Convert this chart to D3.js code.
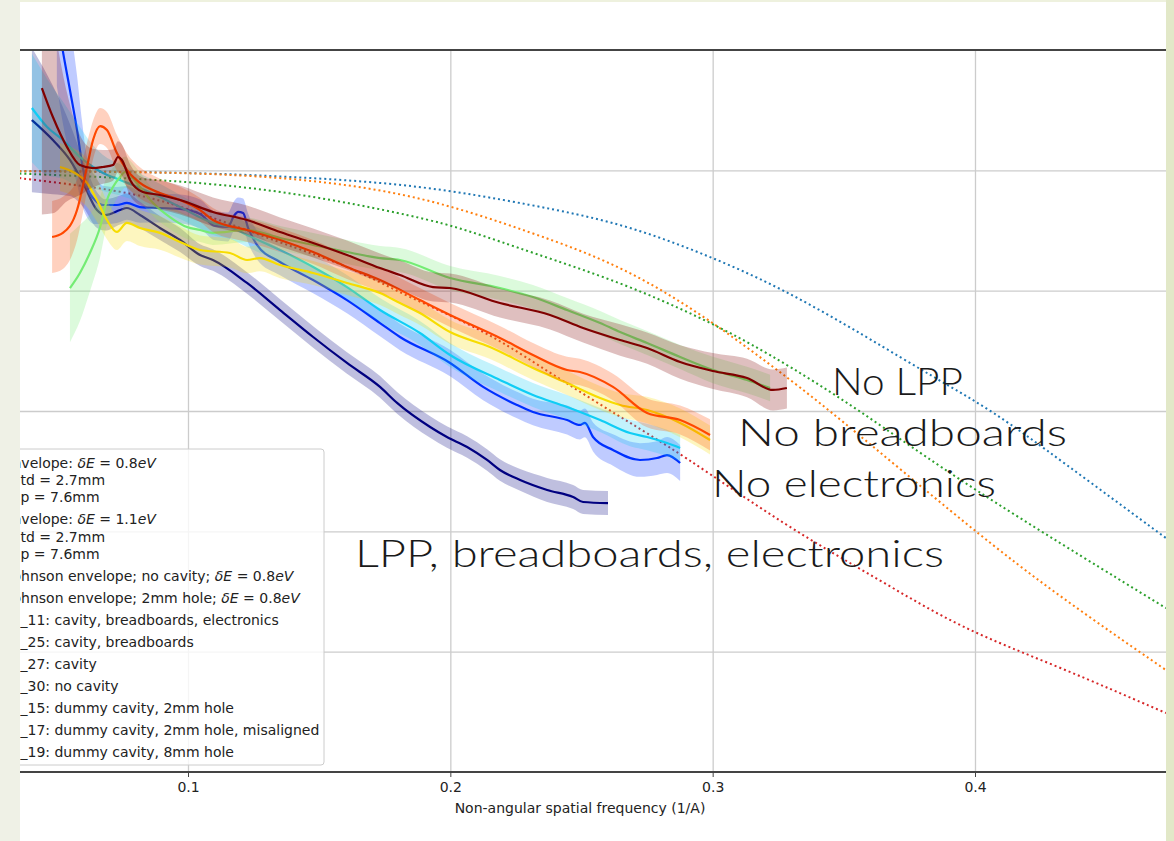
<!DOCTYPE html>
<html>
<head>
<meta charset="utf-8">
<script src="https://cdn.jsdelivr.net/npm/d3@7"></script>
<style>
  body { margin: 0; background: #eef0e2; }
  svg { display: block; }
</style>
</head>
<body>
<div id="graf"></div>
<script>
// Ticks y rejilla
const xTicks = [0.1, 0.2, 0.3, 0.4]
const yGrid  = [0, -1, -2, -3, -4]

// Envolventes (punteadas): [frecuencia, log10]
const envelope08 = [[0.030,-0.006],[0.097,-0.014],[0.1427,-0.055],[0.1884,-0.122],[0.2315,-0.288],[0.2647,-0.437],[0.2952,-0.679],[0.3257,-0.970],[0.3588,-1.385],[0.3840,-1.717],[0.4069,-2.000],[0.4324,-2.407],[0.4728,-3.056]]
const envelope11 = [[0.030,-0.006],[0.097,-0.014],[0.1427,-0.064],[0.1884,-0.205],[0.2315,-0.520],[0.2647,-0.787],[0.2952,-1.186],[0.3207,-1.593],[0.3447,-1.992],[0.4000,-3.006],[0.4324,-3.546],[0.4728,-4.153]]
const johnsonNoCavity = [[0.030,-0.022],[0.097,-0.080],[0.1427,-0.189],[0.1884,-0.388],[0.2064,-0.496],[0.2315,-0.687],[0.2647,-0.928],[0.2952,-1.219],[0.3207,-1.510],[0.3562,-1.992],[0.3943,-2.590],[0.4728,-3.638]]
const johnson2mm = [[0.030,-0.050],[0.0741,-0.163],[0.097,-0.288],[0.1351,-0.604],[0.1606,-0.787],[0.1808,-1.019],[0.1999,-1.202],[0.2189,-1.410],[0.238,-1.684],[0.2647,-2.050],[0.2876,-2.349],[0.3283,-2.964],[0.3638,-3.405],[0.3943,-3.804],[0.4324,-4.128],[0.4728,-4.510]]

// Medidas: [frecuencia, log10, semi-ancho de la banda]
const run11 = [[0.0405,0.418,0.6],[0.0485,0.252,0.45],[0.0550,0.086,0.3],[0.0600,-0.105,0.2],[0.0653,-0.330,0.15],[0.0684,-0.371,0.13],[0.0741,-0.330,0.12],[0.0767,-0.313,0.12],[0.0817,-0.371,0.11],[0.0893,-0.479,0.1],[0.0970,-0.579,0.1],[0.1046,-0.704,0.09],[0.1095,-0.745,0.09],[0.1225,-0.936,0.09],[0.1351,-1.161,0.09],[0.1477,-1.385,0.09],[0.1606,-1.601,0.09],[0.1732,-1.800,0.09],[0.1797,-1.933,0.09],[0.1923,-2.133,0.09],[0.1987,-2.216,0.09],[0.2064,-2.299,0.09],[0.2140,-2.407,0.09],[0.2189,-2.490,0.09],[0.2266,-2.573,0.09],[0.2369,-2.656,0.1],[0.2468,-2.715,0.1],[0.2506,-2.756,0.1],[0.2601,-2.765,0.1]]
const run25 = [[0.0500,1.30,0.6],[0.0523,0.991,0.6],[0.0550,0.668,0.55],[0.0577,0.335,0.45],[0.0596,0.061,0.35],[0.0615,-0.139,0.25],[0.0645,-0.247,0.2],[0.0676,-0.288,0.16],[0.0729,-0.288,0.15],[0.0767,-0.271,0.14],[0.0817,-0.305,0.13],[0.0893,-0.313,0.12],[0.0970,-0.321,0.12],[0.1046,-0.363,0.12],[0.1103,-0.462,0.12],[0.1152,-0.471,0.12],[0.1175,-0.379,0.12],[0.1191,-0.346,0.12],[0.1210,-0.355,0.12],[0.1229,-0.479,0.12],[0.1263,-0.620,0.12],[0.1351,-0.762,0.11],[0.1477,-0.911,0.11],[0.1606,-1.078,0.11],[0.1732,-1.269,0.11],[0.1808,-1.385,0.11],[0.1999,-1.601,0.11],[0.2125,-1.800,0.11],[0.2254,-1.950,0.11],[0.2315,-2.008,0.11],[0.2445,-2.075,0.12],[0.2494,-2.116,0.12],[0.2513,-2.099,0.12],[0.2544,-2.216,0.12],[0.2620,-2.324,0.13],[0.2723,-2.407,0.14],[0.2788,-2.391,0.14],[0.2826,-2.366,0.15],[0.2876,-2.432,0.15]]
const run27 = [[0.0405,0.518,0.45],[0.0463,0.360,0.4],[0.0523,0.252,0.32],[0.0588,0.111,0.25],[0.0638,0.028,0.18],[0.0676,-0.022,0.15],[0.0741,-0.080,0.13],[0.0817,-0.147,0.12],[0.0893,-0.222,0.11],[0.0970,-0.305,0.1],[0.1095,-0.437,0.1],[0.1160,-0.471,0.1],[0.1225,-0.537,0.1],[0.1351,-0.662,0.1],[0.1477,-0.803,0.1],[0.1606,-0.970,0.1],[0.1732,-1.161,0.1],[0.1884,-1.352,0.1],[0.1999,-1.535,0.1],[0.2189,-1.742,0.1],[0.2315,-1.867,0.1],[0.2445,-1.967,0.1],[0.2571,-2.075,0.1],[0.2685,-2.183,0.11],[0.2750,-2.216,0.11],[0.2826,-2.266,0.11],[0.2876,-2.307,0.11]]
const run30 = [[0.0550,-0.978,0.45],[0.0588,-0.853,0.4],[0.0626,-0.687,0.32],[0.0665,-0.471,0.25],[0.0691,-0.247,0.2],[0.0714,-0.139,0.16],[0.0741,-0.055,0.14],[0.0760,-0.014,0.13],[0.0779,-0.039,0.12],[0.0817,-0.139,0.12],[0.0867,-0.271,0.11],[0.0931,-0.388,0.1],[0.0996,-0.471,0.1],[0.1046,-0.496,0.1],[0.1095,-0.520,0.1],[0.1225,-0.496,0.1],[0.1351,-0.562,0.1],[0.1477,-0.620,0.1],[0.1606,-0.679,0.1],[0.1732,-0.729,0.1],[0.1808,-0.745,0.1],[0.1999,-0.895,0.1],[0.2189,-0.978,0.1],[0.2315,-1.053,0.1],[0.2445,-1.161,0.1],[0.2571,-1.269,0.1],[0.2647,-1.344,0.1],[0.2750,-1.435,0.1],[0.2876,-1.551,0.1],[0.3001,-1.659,0.11],[0.3131,-1.742,0.11],[0.3219,-1.809,0.11]]
const run15 = [[0.0512,0.028,0.2],[0.0562,-0.014,0.2],[0.0615,-0.105,0.2],[0.0653,-0.247,0.18],[0.0691,-0.413,0.16],[0.0729,-0.512,0.15],[0.0767,-0.437,0.15],[0.0817,-0.479,0.15],[0.0893,-0.520,0.14],[0.0970,-0.596,0.13],[0.1046,-0.662,0.12],[0.1160,-0.687,0.12],[0.1225,-0.745,0.11],[0.1274,-0.729,0.11],[0.1351,-0.787,0.11],[0.1477,-0.853,0.1],[0.1606,-0.936,0.1],[0.1732,-1.019,0.1],[0.1808,-1.103,0.1],[0.1884,-1.186,0.1],[0.1999,-1.344,0.1],[0.2151,-1.468,0.1],[0.2315,-1.643,0.1],[0.2445,-1.767,0.1],[0.2571,-1.892,0.1],[0.2647,-1.950,0.1],[0.2750,-1.992,0.11],[0.2876,-2.099,0.12],[0.2990,-2.241,0.12]]
const run17 = [[0.0482,-0.554,0.3],[0.0523,-0.520,0.3],[0.0577,-0.330,0.25],[0.0615,0.028,0.2],[0.0638,0.252,0.16],[0.0665,0.368,0.15],[0.0691,0.335,0.15],[0.0729,0.144,0.15],[0.0767,0.003,0.14],[0.0817,-0.105,0.13],[0.0893,-0.189,0.12],[0.0970,-0.247,0.11],[0.1046,-0.330,0.1],[0.1095,-0.413,0.1],[0.1225,-0.496,0.1],[0.1351,-0.579,0.1],[0.1477,-0.679,0.1],[0.1606,-0.803,0.1],[0.1732,-0.911,0.1],[0.1884,-1.078,0.1],[0.1999,-1.202,0.1],[0.2189,-1.393,0.1],[0.2315,-1.535,0.1],[0.2445,-1.659,0.11],[0.2494,-1.676,0.11],[0.2620,-1.800,0.11],[0.2750,-2.016,0.12],[0.2876,-2.075,0.12],[0.2990,-2.199,0.13]]
const run19 = [[0.0443,0.684,1.05],[0.0485,0.443,0.8],[0.0539,0.193,0.45],[0.0588,0.044,0.25],[0.0638,0.019,0.16],[0.0676,0.028,0.14],[0.0714,0.044,0.13],[0.0733,0.111,0.13],[0.0748,0.086,0.13],[0.0779,-0.080,0.13],[0.0828,-0.180,0.12],[0.0893,-0.205,0.12],[0.0970,-0.247,0.12],[0.1095,-0.346,0.12],[0.1225,-0.413,0.12],[0.1351,-0.512,0.12],[0.1477,-0.604,0.12],[0.1606,-0.704,0.12],[0.1732,-0.812,0.12],[0.1808,-0.870,0.12],[0.1934,-0.970,0.12],[0.1999,-0.978,0.12],[0.2189,-1.103,0.12],[0.2380,-1.202,0.12],[0.2506,-1.311,0.12],[0.2647,-1.410,0.13],[0.2750,-1.477,0.13],[0.2876,-1.593,0.14],[0.3001,-1.668,0.15],[0.3131,-1.726,0.16],[0.3230,-1.825,0.17],[0.3283,-1.809,0.17]]

// Leyenda (recortada a la izquierda en la captura)
const legendLabels = [
  ['nvelope: $δE$ = 0.8$eV$', 'td = 2.7mm', 'p = 7.6mm'],
  ['nvelope: $δE$ = 1.1$eV$', 'td = 2.7mm', 'p = 7.6mm'],
  ['ohnson envelope; no cavity; $δE$ = 0.8$eV$'],
  ['ohnson envelope; 2mm hole; $δE$ = 0.8$eV$'],
  ['_11: cavity, breadboards, electronics'],
  ['_25: cavity, breadboards'],
  ['_27: cavity'],
  ['_30: no cavity'],
  ['_15: dummy cavity, 2mm hole'],
  ['_17: dummy cavity, 2mm hole, misaligned'],
  ['_19: dummy cavity, 8mm hole']
]

// Anotaciones de la diapositiva
const notes = ['No LPP', 'No breadboards', 'No electronics', 'LPP, breadboards, electronics']

const envelopes = [
  { data: envelope08,      color: '#1f77b4' },
  { data: envelope11,      color: '#ff7f0e' },
  { data: johnsonNoCavity, color: '#2ca02c' },
  { data: johnson2mm,      color: '#d62728' }
]
const runs = [
  { data: run11, color: '#000080' },
  { data: run25, color: '#0030ff' },
  { data: run27, color: '#10cdf5' },
  { data: run30, color: '#74ec74' },
  { data: run15, color: '#f7dc00' },
  { data: run17, color: '#ff4800' },
  { data: run19, color: '#800000' }
]

const W = 1174, H = 841
const fuente = 'DejaVu Sans'

svg = d3.select('#graf').append('svg')
        .attr('width', W)
        .attr('height', H)

// Fondo de la diapositiva y area blanca
svg.append('rect').attr('width', W).attr('height', H).attr('fill', '#eef1e0')
svg.append('rect')
  .attr('x', 20).attr('y', 2)
  .attr('width', 1146).attr('height', H - 2)
  .attr('fill', 'white')

// Escaladores
x = d3.scaleLinear().domain([0.1, 0.4]).range([188, 975])
y = d3.scaleLinear().domain([1, -5]).range([50, 772])
const xLo = 0.02, xHi = 0.48
const top_ = y(1), bot = y(-5)

g = svg.append('g')

g.append('clipPath')
  .attr('id', 'clip')
  .append('rect')
    .attr('x', x(xLo))
    .attr('y', top_)
    .attr('width', x(xHi) - x(xLo))
    .attr('height', bot - top_)

// Rejilla
g.append('g')
  .attr('class', 'grid')
  .attr('transform', `translate(0,${bot})`)
  .call(d3.axisBottom(x).tickValues(xTicks).tickFormat('').tickSize(-(bot - top_)))
g.append('g')
  .attr('class', 'grid')
  .attr('transform', `translate(${x(xLo)},0)`)
  .call(d3.axisLeft(y).tickValues(yGrid).tickFormat('').tickSize(-(x(xHi) - x(xLo))))
g.selectAll('.grid .domain').remove()
g.selectAll('.grid line')
  .attr('stroke', '#cccccc')
  .attr('stroke-width', 1.3)

plot = g.append('g').attr('clip-path', 'url(#clip)')

linea = d3.line()
          .x(d => x(d[0]))
          .y(d => y(d[1]))
          .curve(d3.curveMonotoneX)
suave = d3.line()
          .x(d => x(d[0]))
          .y(d => y(d[1]))
          .curve(d3.curveBasis)
banda = d3.area()
          .x(d => x(d[0]))
          .y0(d => y(d[1] - d[2]))
          .y1(d => y(d[1] + d[2]))
          .curve(d3.curveMonotoneX)

envelopes.forEach(e => {
  plot.append('path')
    .attr('d', suave(e.data))
    .attr('fill', 'none')
    .attr('stroke', e.color)
    .attr('stroke-width', 2)
    .attr('stroke-dasharray', '2,3')
})

runs.forEach(r => {
  plot.append('path')
    .attr('d', banda(r.data))
    .attr('fill', r.color)
    .attr('fill-opacity', 0.25)
    .attr('stroke', 'none')
  plot.append('path')
    .attr('d', linea(r.data))
    .attr('fill', 'none')
    .attr('stroke', r.color)
    .attr('stroke-width', 2.2)
    .attr('stroke-linejoin', 'round')
})

// Spines
;[top_, bot].forEach(yy => {
  g.append('line')
    .attr('x1', x(xLo)).attr('x2', x(xHi))
    .attr('y1', yy).attr('y2', yy)
    .attr('stroke', '#444')
    .attr('stroke-width', 1.8)
})

// Eje x
xAxis = g.append('g')
          .attr('transform', `translate(0,${bot})`)
          .call(d3.axisBottom(x).tickValues(xTicks).tickSize(5).tickPadding(5).tickFormat(d3.format('.1f')))
xAxis.select('.domain').remove()
xAxis.selectAll('line').attr('stroke', '#444')
xAxis.selectAll('text')
  .attr('font-family', fuente)
  .attr('font-size', '14px')
  .attr('fill', '#222')

g.append('text')
  .attr('x', 580)
  .attr('y', 813)
  .attr('text-anchor', 'middle')
  .attr('font-family', fuente)
  .attr('font-size', '14px')
  .attr('fill', '#222')
  .text('Non-angular spatial frequency (1/A)')

// Leyenda
leg = g.append('g')
leg.append('rect')
  .attr('x', -100).attr('y', 449)
  .attr('width', 424).attr('height', 316)
  .attr('rx', 3)
  .attr('fill', 'white')
  .attr('fill-opacity', 0.8)
  .attr('stroke', '#cccccc')

let ly = 463
legendLabels.forEach(lab => {
  lab.forEach((s, i) => {
    const t = leg.append('text')
                .attr('x', /^[no]/.test(s) ? 12.5 : 20.5)
                .attr('y', ly + 5)
                .attr('font-family', fuente)
                .attr('font-size', '14px')
                .attr('fill', '#222')
    s.split('$').forEach((part, k) => {
      if (part === '') return
      t.append('tspan')
        .attr('font-style', k % 2 ? 'italic' : 'normal')
        .text(part)
    })
    if (i < lab.length - 1) ly += 17.2
  })
  ly += 22
})

// Textos grandes
const notePos = [[832, 395, 131], [738, 446, 329], [712, 497, 284], [355, 567, 589]]
notes.forEach((n, i) => {
  svg.append('text')
    .attr('x', notePos[i][0])
    .attr('y', notePos[i][1])
    .attr('font-family', 'Lato')
    .attr('font-weight', 300)
    .attr('font-size', '38px')
    .attr('fill', '#1a1a1a')
    .attr('textLength', notePos[i][2])
    .attr('lengthAdjust', 'spacingAndGlyphs')
    .text(n)
})

// Bordes de la diapositiva (tapan lo recortado)
svg.append('rect').attr('x', 0).attr('y', 0).attr('width', 20).attr('height', H).attr('fill', '#eff1e6')
svg.append('rect').attr('x', 1166).attr('y', 0).attr('width', 8).attr('height', H).attr('fill', '#e2e8c8')
svg.append('rect').attr('x', 20).attr('y', 0).attr('width', 1146).attr('height', 2).attr('fill', '#eef1de')
</script>
</body>
</html>
